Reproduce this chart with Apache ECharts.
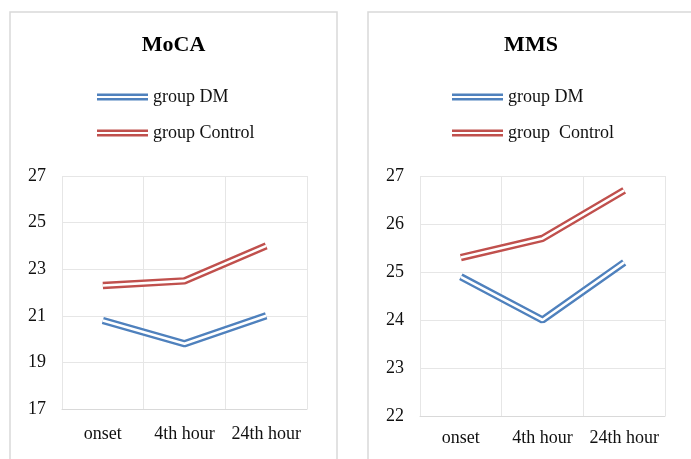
<!DOCTYPE html>
<html>
<head>
<meta charset="utf-8">
<script src="https://cdn.jsdelivr.net/npm/echarts@6/dist/echarts.min.js"></script>
<style>
html,body{margin:0;padding:0;background:#fff;}
#c{width:691px;height:459px;}
</style>
</head>
<body>
<div id="c"></div>
<script>
var categories = ['onset', '4th hour', '24th hour'];
var mocaDM = [20.8, 19.8, 21.0];
var mocaControl = [22.3, 22.5, 24.0];
var mmsDM = [24.9, 24.0, 25.2];
var mmsControl = [25.3, 25.7, 26.7];
var mocaTicks = [17, 27, 2];
var mmsTicks = [22, 27, 1];

var BLUE = '#4f81bd', RED = '#c0504d';
var FONT = '"Liberation Serif", "Times New Roman", serif';
var ICON = 'path://M0,0L51,0L51,2.4L0,2.4Z M0,4.6L51,4.6L51,7L0,7Z';

function lineSeries(name, data, idx, color) {
  return [
    { name: name, type: 'line', xAxisIndex: idx, yAxisIndex: idx, data: data,
      symbol: 'none', color: color, lineStyle: { color: color, width: 7.4 }, silent: true, z: 3 },
    { name: '_gap_' + name + idx, type: 'line', xAxisIndex: idx, yAxisIndex: idx, data: data,
      symbol: 'none', color: '#fff', lineStyle: { color: '#ffffff', width: 2.6 }, silent: true, z: 4 }
  ];
}

function xAxisCfg(idx, margin) {
  return { type: 'category', gridIndex: idx, data: categories, boundaryGap: true,
    axisLine: { show: true, lineStyle: { color: '#d9d9d9', width: 1 } },
    axisTick: { show: false, interval: 0 },
    splitLine: { show: true, interval: 0, lineStyle: { color: '#e6e6e6', width: 1 } },
    axisLabel: { interval: 0, fontFamily: FONT, fontSize: 18, color: '#111', margin: margin } };
}
function yAxisCfg(idx, t) {
  return { type: 'value', gridIndex: idx, min: t[0], max: t[1], interval: t[2],
    axisLine: { show: false }, axisTick: { show: false },
    splitLine: { show: true, lineStyle: { color: '#e6e6e6', width: 1 } },
    axisLabel: { fontFamily: FONT, fontSize: 18, color: '#111', margin: 16 } };
}
function legendCfg(left, names) {
  return { orient: 'vertical', left: left, top: 88, padding: 0, itemGap: 18,
    itemWidth: 51, itemHeight: 7, icon: ICON, itemTextGap: 6, data: names,
    textStyle: { fontFamily: FONT, fontSize: 18, color: '#111', lineHeight: 18 } };
}

var chart = echarts.init(document.getElementById('c'), null, { renderer: 'canvas' });
chart.setOption({
  animation: false,
  backgroundColor: '#fff',
  graphic: [
    { type: 'rect', shape: { x: 10, y: 12, width: 327, height: 470 },
      style: { fill: 'none', stroke: '#d9d9d9', lineWidth: 1.5 }, z: -1 },
    { type: 'rect', shape: { x: 368, y: 12, width: 340, height: 470 },
      style: { fill: 'none', stroke: '#d9d9d9', lineWidth: 1.5 }, z: -1 },
    { type: 'text', x: 173.5, y: 45, style: { text: 'MoCA', font: 'bold 22px ' + FONT,
      fill: '#000', textAlign: 'center', textVerticalAlign: 'middle' } },
    { type: 'text', x: 531, y: 45, style: { text: 'MMS', font: 'bold 22px ' + FONT,
      fill: '#000', textAlign: 'center', textVerticalAlign: 'middle' } }
  ],
  legend: [
    legendCfg(97, ['group DM', 'group Control']),
    legendCfg(452, ['group DM', 'group  Control'])
  ],
  grid: [
    { left: 62, top: 176, width: 245, height: 233 },
    { left: 420, top: 176, width: 245, height: 240 }
  ],
  xAxis: [xAxisCfg(0, 16), xAxisCfg(1, 13)],
  yAxis: [yAxisCfg(0, mocaTicks), yAxisCfg(1, mmsTicks)],
  series: [].concat(
    lineSeries('group DM', mocaDM, 0, BLUE),
    lineSeries('group Control', mocaControl, 0, RED),
    lineSeries('group DM', mmsDM, 1, BLUE),
    lineSeries('group  Control', mmsControl, 1, RED)
  )
});
</script>
</body>
</html>
